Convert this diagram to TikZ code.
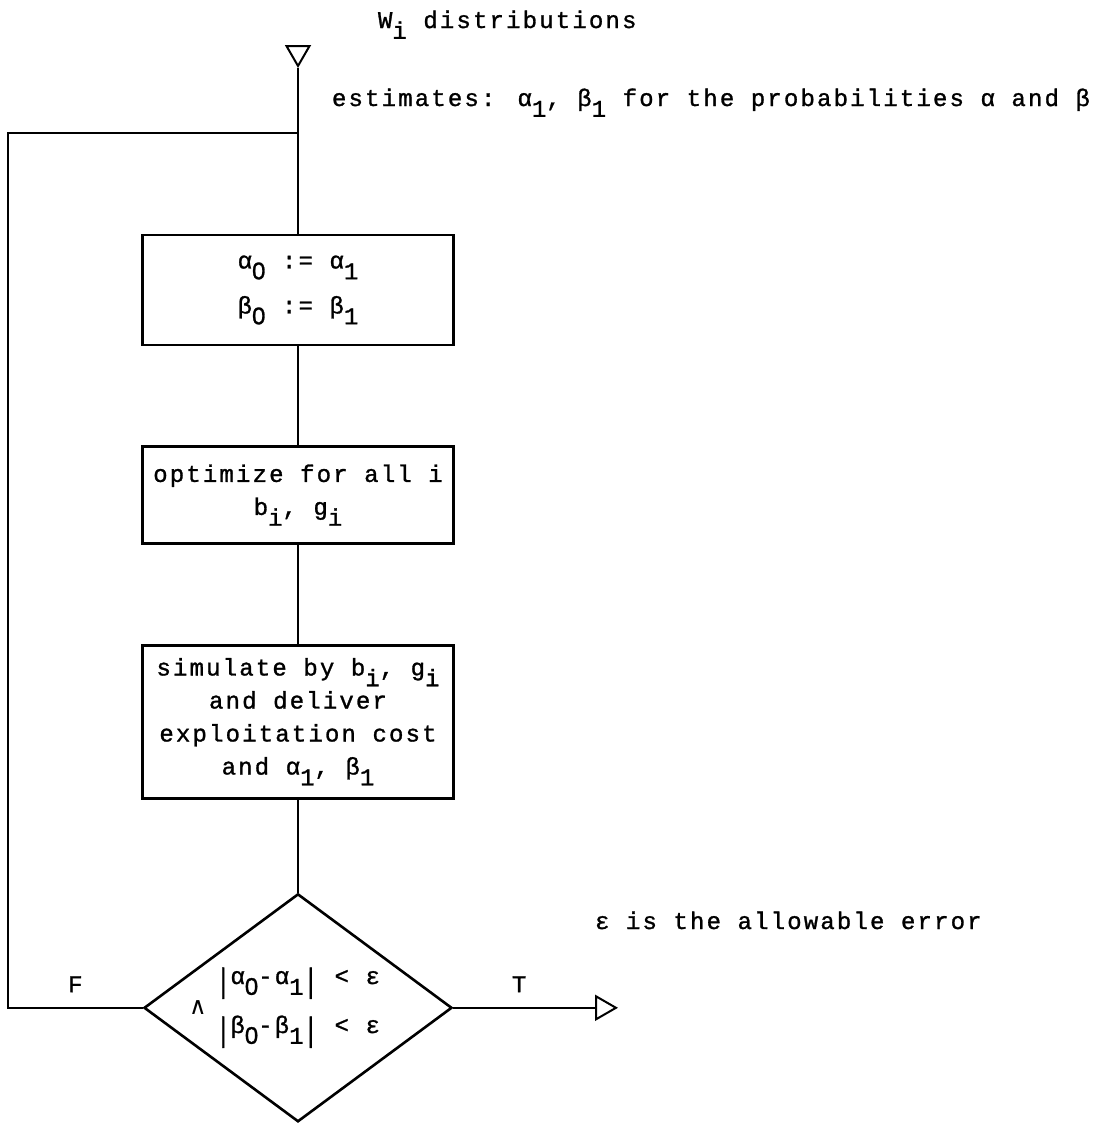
\documentclass[tikz,border=0pt]{standalone}
\usepackage{fontspec}
\setmainfont{Liberation Mono}[LetterSpace=9,FakeBold=1.2]
\newfontfamily\andfont{DejaVu Sans}
\newfontfamily\zerofont{Liberation Sans}[FakeBold=1.2]
\usepackage{graphicx}
\usetikzlibrary{arrows.meta,positioning,shapes.geometric}
\newcommand{\subi}[1]{\raisebox{-0.45em}{#1}}
\newcommand{\subzero}{\subi{\zerofont 0}}
\newcommand{\absbar}{\raisebox{-4pt}{\scalebox{1}[1.4]{|}}}
\newcommand{\newBox}[4]{\node[procbox,minimum height=#3,#4](#1){#2};}

\begin{document}
\begin{tikzpicture}[
    % one unit is one pixel of the scan
    x=0.5pt,y=-0.5pt,
    % Default line and text
    line width=1pt,font=\fontsize{12}{16.5}\selectfont,
    procbox/.style={draw,line width=1.3pt,minimum width=155.5pt,inner sep=2pt,align=center},
    testbox/.style={draw,diamond,aspect=1.35,line width=1.3pt,minimum width=154pt,minimum height=114pt,inner sep=0pt,align=center},
    note/.style={anchor=base west,inner sep=0pt},
    term/.style={-{Triangle[open,length=11.5pt,width=13pt]}}
    ]
    \useasboundingbox (0,0) rectangle (1105,1125);

    % input and the first estimates
    \node[note] (wdist) at (377,28) {W\subi{i} distributions};
    \coordinate (inTop) at (298,45);
    \coordinate (inTip) at (298,68);
    \coordinate (merge) at (298,133);
    \coordinate (loopTop) at (8,133);
    \node[note] (est) at (331,106) {estimates: α\subi{1}, β\subi{1} for the probabilities α and β};

    \newBox{init}{α\subzero{} := α\subi{1}\\[6pt]β\subzero{} := β\subi{1}}{55pt}{at={(298,290)}}
    \newBox{opt}{optimize for all i\\b\subi{i}, g\subi{i}}{48.5pt}{below=49.5pt of init}
    \newBox{sim}{simulate by b\subi{i}, g\subi{i}\\and deliver\\exploitation cost\\and α\subi{1}, β\subi{1}}{76.5pt}{below=49.5pt of opt}
    \node[testbox,below=46.5pt of sim] (cond) {\absbar α\subzero-α\subi{1}\absbar{} < ε\\[8pt]\absbar β\subzero-β\subi{1}\absbar{} < ε};
    \node (andsign) at ([xshift=-50pt]cond.center) {\andfont ∧};
    \coordinate (outTip) at (618,0 |- cond.east);
    \node[note] (errnote) at (594,929) {ε is the allowable error};

    \draw[term] (inTop) -- (inTip);
    \draw (inTip) -- (init);
    \draw (init) -- (opt);
    \draw (opt) -- (sim);
    \draw (sim) -- (cond);
    \draw (merge) -- (loopTop) |- node[pos=0.75,above=4pt] {F} (cond.west);
    \draw[term] (cond.east) -- node[pos=0.4,above=4pt] {T} (outTip);
  \end{tikzpicture}
\end{document}
